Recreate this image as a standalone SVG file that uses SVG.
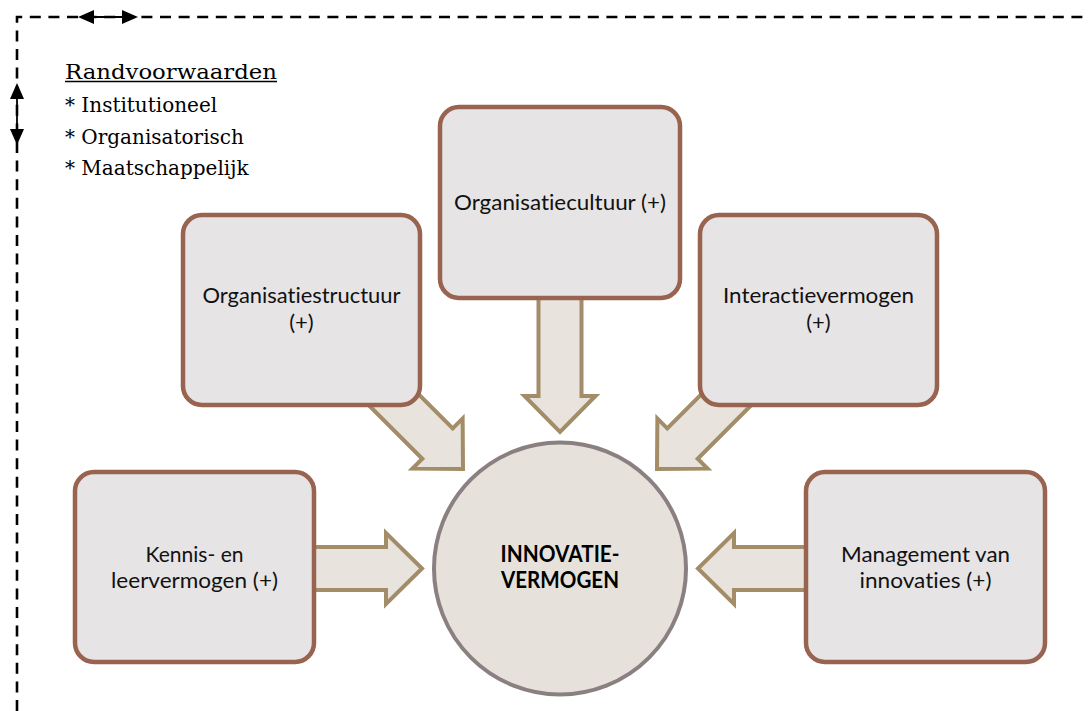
<svg xmlns="http://www.w3.org/2000/svg" width="1090" height="711" viewBox="0 0 1090 711">
  <defs>
    <style>
      .frame { fill: none; stroke: #000; stroke-width: 2.6; stroke-dasharray: 11 7.6; }
      .dim { stroke: #000; stroke-width: 1.8; fill: none; }
      .dimhead { fill: #000; }
      .serif { font-family: "DejaVu Serif", "Liberation Serif", serif; font-size: 20px; fill: #000; }
      .box { fill: #e6e4e5; stroke: #98634f; stroke-width: 4.5; }
      .hub { fill: #e6e2db; stroke: #8b8081; stroke-width: 4; }
      .flow { fill: #e8e4dd; stroke: #a38d68; stroke-width: 4; stroke-linejoin: miter; }
      .label { font-family: Lato, "Open Sans", "Liberation Sans", sans-serif; font-size: 22px; fill: #111; text-anchor: middle; font-variant-ligatures: none; }
      .hubtext { font-family: Lato, "Open Sans", "Liberation Sans", sans-serif; font-size: 22px; font-weight: bold; fill: #000; text-anchor: middle; }
    </style>
    <!-- block arrow pointing +x, tip at the origin -->
    <path id="blockArrow" d="M -140,-21.5 H -36 V -35.5 L 0,0 L -36,35.5 V 21.5 H -140 Z"/>
  </defs>

  <rect width="1090" height="711" fill="#fff"/>

  <!-- boundary conditions frame -->
  <g id="frame">
    <path class="frame" d="M 17,711 V 17 H 1090"/>
    <line class="dim" x1="86" y1="17" x2="130" y2="17"/>
    <polygon class="dimhead" points="78,17 94,10 94,24"/>
    <polygon class="dimhead" points="138,17 122,10 122,24"/>
    <line class="dim" x1="17" y1="90" x2="17" y2="138"/>
    <polygon class="dimhead" points="17,83 10,99 24,99"/>
    <polygon class="dimhead" points="17,145 10,129 24,129"/>
  </g>

  <g id="conditions">
    <text class="serif" x="65" y="78.5" font-size="23" textLength="212" lengthAdjust="spacingAndGlyphs">Randvoorwaarden</text>
    <line x1="65" y1="81.5" x2="277" y2="81.5" stroke="#000" stroke-width="1.3"/>
    <text class="serif" x="65" y="111.5">* Institutioneel</text>
    <text class="serif" x="65" y="143.5">* Organisatorisch</text>
    <text class="serif" x="65" y="175">* Maatschappelijk</text>
  </g>

  <!-- connectors -->
  <g id="connectors">
    <use href="#blockArrow" class="flow" transform="translate(422,568.5)"/>
    <use href="#blockArrow" class="flow" transform="translate(698,568.5) rotate(180)"/>
    <use href="#blockArrow" class="flow" transform="translate(560,432) rotate(90)"/>
    <use href="#blockArrow" class="flow" transform="translate(463,469) rotate(45)"/>
    <use href="#blockArrow" class="flow" transform="translate(657,469) rotate(135)"/>
  </g>

  <g id="node-structuur">
    <rect class="box" x="183" y="215" width="237" height="190" rx="19"/>
    <text class="label" x="301.5" y="303" textLength="198" lengthAdjust="spacingAndGlyphs">Organisatiestructuur</text>
    <text class="label" x="301.5" y="330">(+)</text>
  </g>

  <g id="node-cultuur">
    <rect class="box" x="440" y="107" width="240" height="191" rx="19"/>
    <text class="label" x="560" y="210" textLength="212" lengthAdjust="spacingAndGlyphs">Organisatiecultuur (+)</text>
  </g>

  <g id="node-interactie">
    <rect class="box" x="700" y="215" width="237" height="190" rx="19"/>
    <text class="label" x="818.5" y="303" textLength="191" lengthAdjust="spacingAndGlyphs">Interactievermogen</text>
    <text class="label" x="818.5" y="330">(+)</text>
  </g>

  <g id="node-kennis">
    <rect class="box" x="75" y="472" width="239" height="190" rx="19"/>
    <text class="label" x="194.5" y="562" textLength="98" lengthAdjust="spacingAndGlyphs">Kennis- en</text>
    <text class="label" x="194.5" y="588" textLength="167" lengthAdjust="spacingAndGlyphs">leervermogen (+)</text>
  </g>

  <g id="node-management">
    <rect class="box" x="806" y="472" width="239" height="190" rx="19"/>
    <text class="label" x="925.5" y="562" textLength="169" lengthAdjust="spacingAndGlyphs">Management van</text>
    <text class="label" x="925.5" y="588" textLength="132" lengthAdjust="spacingAndGlyphs">innovaties (+)</text>
  </g>

  <g id="node-innovatievermogen">
    <circle class="hub" cx="560" cy="568.5" r="126"/>
    <text class="hubtext" x="560" y="562" textLength="119" lengthAdjust="spacingAndGlyphs">INNOVATIE-</text>
    <text class="hubtext" x="560" y="588" textLength="118" lengthAdjust="spacingAndGlyphs">VERMOGEN</text>
  </g>
</svg>
